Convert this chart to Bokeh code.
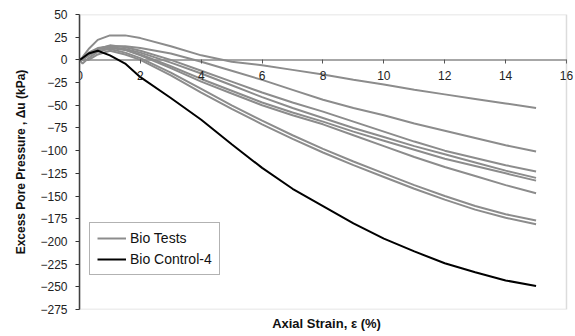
from bokeh.plotting import figure
from bokeh.models import Range1d, FixedTicker, Legend, LegendItem, Title, BoxAnnotation
from bokeh.embed import file_html
from bokeh.resources import INLINE

strain = [0, 0.1, 0.3, 0.6, 1, 1.5, 2, 3, 4, 5, 6, 7, 8, 9, 10, 11, 12, 13, 14, 15]

bio_a = [0, 3, 12, 22, 27, 27, 24, 15, 5, -2, -6, -11, -16, -22, -27, -33, -38, -43, -48, -53]
bio_b = [0, 2, 8, 13, 15, 15, 13, 7, -2, -12, -22, -33, -44, -53, -61, -70, -78, -86, -94, -101]
bio_c = [0, 1, 6, 12, 16, 14, 10, 0, -12, -24, -36, -47, -57, -68, -79, -90, -100, -108, -116, -123]
bio_d = [0, 2, 7, 12, 14, 12, 8, -3, -15, -28, -41, -53, -64, -75, -85, -95, -104, -113, -122, -130]
bio_e = [0, -4, 2, 9, 13, 11, 6, -7, -21, -34, -47, -58, -68, -79, -89, -99, -109, -117, -125, -133]
bio_f = [0, 0, 5, 12, 15, 11, 5, -9, -24, -37, -50, -61, -71, -83, -95, -107, -118, -128, -138, -147]
bio_g = [0, 1, 5, 10, 12, 8, 2, -14, -32, -50, -67, -83, -98, -112, -125, -138, -150, -161, -170, -177]
bio_h = [0, 0, 0, 6, 10, 6, 0, -17, -36, -54, -71, -87, -102, -116, -129, -142, -154, -165, -174, -181]
bio_tests = [bio_a, bio_b, bio_c, bio_d, bio_e, bio_f, bio_g, bio_h]

control_4 = [0, 2, 7, 10, 5, -4, -19, -42, -66, -93, -119, -142, -161, -180, -197, -211, -224, -234, -243, -249]

x_ticks = [0, 2, 4, 6, 8, 10, 12, 14, 16]
y_ticks = list(range(-275, 51, 25))
series_names = ["Bio Tests", "Bio Control-4"]

FONT = "Liberation Sans"
X_MIN, X_MAX = x_ticks[0], x_ticks[-1]
Y_MIN, Y_MAX = y_ticks[0], y_ticks[-1]

# a little room past x = 16 so that the "16" tick label is not clipped
p = figure(width=575, height=336, output_backend="svg", toolbar_location=None,
           x_range=Range1d(X_MIN, X_MAX + 0.23), y_range=Range1d(Y_MIN, Y_MAX),
           min_border_left=79, min_border_right=2, min_border_top=14, min_border_bottom=27)
p.grid.visible = False
p.outline_line_color = None
p.background_fill_color = "white"
p.border_fill_color = "white"

# plot-area box drawn in data coordinates (0..16, -275..50)
p.add_layout(BoxAnnotation(left=X_MIN, right=X_MAX, bottom=Y_MIN, top=Y_MAX,
                           fill_alpha=0, line_color="#8a8a8a", line_width=1.5))

# x axis at y = 0
xa = p.xaxis[0]
xa.fixed_location = 0
xa.ticker = FixedTicker(ticks=x_ticks)
xa.axis_line_color = None
xa.major_tick_line_color = "#555555"
xa.major_tick_out = 4
xa.major_tick_in = 0
xa.minor_tick_line_color = None
xa.major_label_text_font = FONT
xa.major_label_text_font_size = "12px"
xa.major_label_text_color = "#222222"
xa.major_label_standoff = 7
p.line([X_MIN, X_MAX], [0, 0], line_color="#8a8a8a", line_width=1.5)

ya = p.yaxis[0]
ya.ticker = FixedTicker(ticks=y_ticks)
ya.axis_line_color = "#333333"
ya.axis_line_width = 1.5
ya.major_tick_line_color = "#333333"
ya.major_tick_out = 4
ya.major_tick_in = 0
ya.minor_tick_line_color = None
ya.major_label_text_font = FONT
ya.major_label_text_font_size = "12px"
ya.major_label_text_color = "#222222"
ya.major_label_standoff = 8
ya.axis_label = "Excess Pore Pressure , \u0394u (kPa)"
ya.axis_label_text_font = FONT
ya.axis_label_text_font_style = "bold"
ya.axis_label_text_font_size = "12px"
ya.axis_label_text_color = "#111111"
ya.axis_label_standoff = 9

p.add_layout(Title(text="Axial Strain, \u03b5 (%)", align="center", text_font=FONT,
                   text_font_size="13px", text_font_style="bold", text_color="#111111",
                   offset=-4, standoff=8), "below")

gray_renderers = []
for ys in bio_tests:
    r = p.line(strain, ys, line_color="#8c8c8c", line_width=2)
    gray_renderers.append(r)
blk = p.line(strain, control_4, line_color="black", line_width=2)

legend = Legend(items=[LegendItem(label=series_names[0], renderers=[gray_renderers[0]]),
                       LegendItem(label=series_names[1], renderers=[blk])],
                location=(10, 34), orientation="vertical",
                border_line_color="#666666", border_line_width=1,
                label_text_font=FONT, label_text_font_size="14px", label_text_color="#111111",
                glyph_width=29, glyph_height=16, label_height=16,
                spacing=5, padding=7, margin=0, label_standoff=4)
p.add_layout(legend, "center")

open("out.html", "w").write(file_html(p, INLINE))
